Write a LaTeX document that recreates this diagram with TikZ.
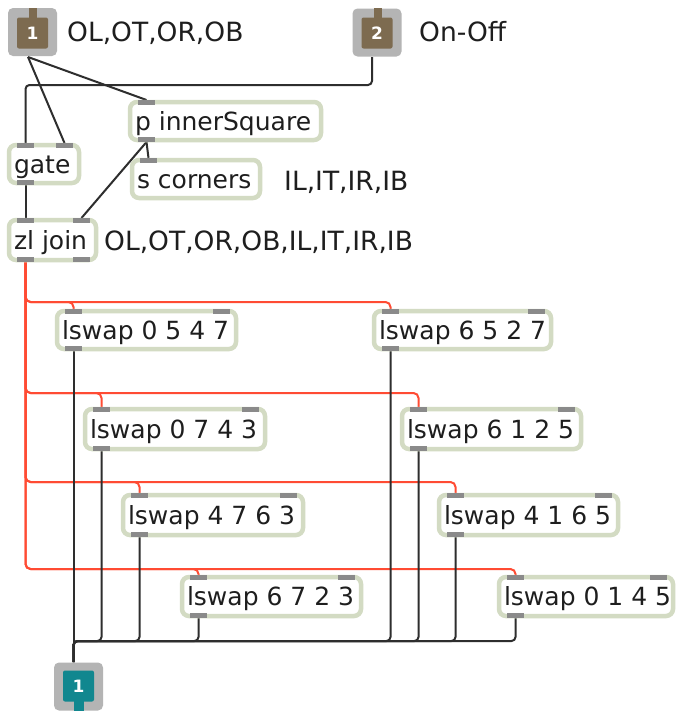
\documentclass[tikz,border=0pt]{standalone}
\usepackage{fontspec}
\setmainfont{DejaVu Sans}
\usetikzlibrary{calc}

\definecolor{boxrim}{HTML}{D3DBC3}
\definecolor{tabgray}{HTML}{8A8A8A}
\definecolor{cordred}{HTML}{FF4B33}
\definecolor{cordblack}{HTML}{2E2E2E}
\definecolor{iogray}{HTML}{B4B4B4}
\definecolor{inbrown}{HTML}{7D6B50}
\definecolor{outteal}{HTML}{11878F}
\definecolor{txt}{HTML}{1E1E1E}

\pgfdeclarelayer{bg}
\pgfdeclarelayer{cords}
\pgfsetlayers{bg,cords,main}

\tikzset{
  objbox/.style={draw=boxrim, line width=4.5pt, fill=white, rounded corners=7pt,
    anchor=north west, outer sep=0pt, inner xsep=5pt, inner ysep=0pt,
    text height=22pt, text depth=4pt, text=txt,
    font=\fontsize{25}{28}\selectfont},
  comment/.style={inner sep=0pt, text=txt, font=\fontsize{26.5}{30}\selectfont},
  iobox/.style={fill=iogray, rounded corners=5pt, minimum width=49pt,
    minimum height=48pt, inner sep=0pt},
  iocore/.style={rounded corners=2pt, minimum size=31pt, inner sep=0pt,
    text=white, font=\bfseries\fontsize{17}{17}\selectfont},
  cord/.style={draw=cordblack, line width=2pt, rounded corners=4pt},
  redcord/.style={draw=cordred, line width=2pt, rounded corners=5pt},
}

% object box with inlet/outlet tabs and connection points
% #1 name, #2 left, #3 top, #4 width, #5 height, #6 text, #7 inlets, #8 outlets
\newcommand\maxobj[8]{%
  \pgfmathsetmacro\mxL{#2+2}\pgfmathsetmacro\mxT{#3+2}%
  \pgfmathsetmacro\mxH{#5-4}\pgfmathsetmacro\mxTW{#4-14}%
  \node[objbox, minimum height=\mxH pt] (#1) at (\mxL,\mxT) {\makebox[\mxTW pt][l]{#6}};
  \coordinate (#1-i1) at ({#2+18.5},#3);
  \coordinate (#1-i2) at ({#2+#4-16.5},#3);
  \coordinate (#1-o1) at ({#2+18.5},{#3+#5});
  \coordinate (#1-o2) at ({#2+#4-16.5},{#3+#5});
  \fill[tabgray] ({#2+10},#3) rectangle ++(17,5);
  \ifnum#7>1 \fill[tabgray] ({#2+#4-25},#3) rectangle ++(17,5);\fi
  \ifnum#8>0 \fill[tabgray] ({#2+10},{#3+#5}) rectangle ++(17,-5);\fi
  \ifnum#8>1 \fill[tabgray] ({#2+#4-25},{#3+#5}) rectangle ++(17,-5);\fi
}

\begin{document}
\begin{tikzpicture}[x=1pt,y=-1pt]
\begin{pgfonlayer}{bg}
  \fill[white] (0,0) rectangle (676,715);
\end{pgfonlayer}
\useasboundingbox (0,0) rectangle (676,715);

% inlets
\node[iobox] (in1) at (32.5,32) {};
\fill[inbrown] (28.5,8) rectangle (37,18);
\node[iocore, fill=inbrown] (in1c) at (32.5,33) {1};
\coordinate (in1-o) at (28,57);

\node[iobox] (in2) at (377,32.5) {};
\fill[inbrown] (373.5,8) rectangle (382,18);
\node[iocore, fill=inbrown] (in2c) at (377,33) {2};
\coordinate (in2-o) at (372,57);

% outlet
\node[iobox] (out1) at (78.5,686.5) {};
\fill[outteal] (74,700) rectangle (84,711);
\node[iocore, fill=outteal] (out1c) at (78.5,686) {1};
\coordinate (out1-i) at (73.5,662);

% comments
\node[comment, anchor=base west] (c1) at (67,41) {OL,OT,OR,OB};
\node[comment, anchor=base west] (c2) at (419,41) {On-Off};
\node[comment, anchor=base west] (c3) at (284,190) {IL,IT,IR,IB};
\node[comment, anchor=base west] (c4) at (104,250) {OL,OT,OR,OB,IL,IT,IR,IB};

% objects
\maxobj{pin}{128}{100}{195}{42}{p innerSquare}{1}{1}
\maxobj{sc}{130}{158}{132}{42}{s corners}{1}{0}
\maxobj{ga}{7}{143}{74}{42}{gate}{2}{1}
\maxobj{zj}{7}{218}{91}{44}{zl join}{2}{2}
\maxobj{la}{55}{309}{183}{42}{lswap 0 5 4 7}{2}{1}
\maxobj{lb}{372}{309}{181}{42}{lswap 6 5 2 7}{2}{1}
\maxobj{lc}{83}{407}{184}{44}{lswap 0 7 4 3}{2}{1}
\maxobj{ld}{400}{407}{183}{44}{lswap 6 1 2 5}{2}{1}
\maxobj{le}{121}{493}{184}{44}{lswap 4 7 6 3}{2}{1}
\maxobj{lf}{437}{493}{183}{44}{lswap 4 1 6 5}{2}{1}
\maxobj{lg}{180}{575}{183}{43}{lswap 6 7 2 3}{2}{1}
\maxobj{lh}{497}{575}{178}{43}{lswap 0 1 4 5}{2}{1}

% patch cords
\coordinate (rowB) at (0,85);
\coordinate (lvA) at (0,302);
\coordinate (lvB) at (0,393);
\coordinate (lvC) at (0,482);
\coordinate (lvD) at (0,569);
\coordinate (bus) at (73.5,641);

\begin{pgfonlayer}{cords}
  \foreach \t/\l in {la/lvA, lb/lvA, lc/lvB, ld/lvB, le/lvC, lf/lvC, lg/lvD, lh/lvD}
    \draw[redcord] (zj-o1) |- (\l -| \t-i1) -- (\t-i1);

  \draw[cord] (la-o1) -- (out1-i);
  \foreach \t in {lb, lc, ld, le, lf, lg, lh}
    \draw[cord] (\t-o1) |- (bus) -- (out1-i);

  \draw[cord] (in1-o) -- (ga-i2);
  \draw[cord] (in1-o) -- (pin-i1);
  \draw[cord] (in2-o) |- (rowB -| ga-i1) -- (ga-i1);
  \draw[cord] (pin-o1) -- (sc-i1);
  \draw[cord] (pin-o1) -- (zj-i2);
  \draw[cord] (ga-o1) -- (zj-i1);
\end{pgfonlayer}
\end{tikzpicture}
\end{document}
